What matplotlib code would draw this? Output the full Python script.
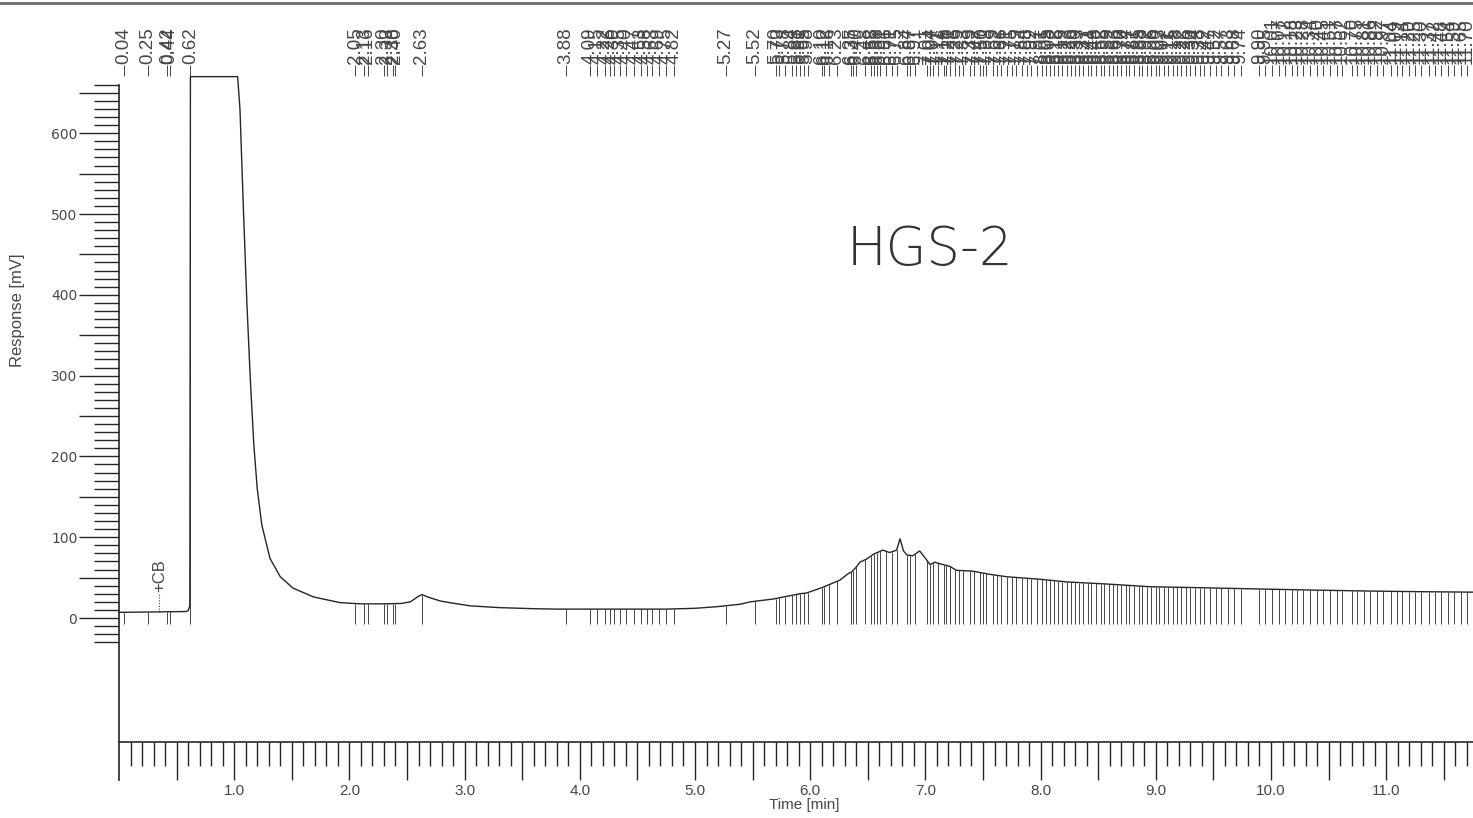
import numpy as np
import matplotlib
matplotlib.use("Agg")
import matplotlib.pyplot as plt
from matplotlib.ticker import FixedLocator, FuncFormatter
from matplotlib.lines import Line2D

# ---------------- data ----------------
time_min = [0.00, 0.30, 0.58, 0.60, 0.615, 0.62, 1.03, 1.05, 1.08, 1.11, 1.14,
            1.17, 1.20, 1.24, 1.31, 1.40, 1.51, 1.69, 1.92, 2.10, 2.30, 2.45,
            2.53, 2.60, 2.63, 2.68, 2.79, 2.87, 3.05, 3.31, 3.60, 3.80, 4.30,
            4.75, 5.00, 5.19, 5.39, 5.48, 5.68, 5.91, 5.97, 6.11, 6.26, 6.33,
            6.36, 6.40, 6.43, 6.49, 6.55, 6.63, 6.69, 6.75, 6.78, 6.81, 6.84,
            6.89, 6.95, 7.01, 7.04, 7.08, 7.13, 7.21, 7.27, 7.41, 7.56, 7.71,
            7.99, 8.23, 8.58, 8.95, 9.38, 9.90, 10.31, 10.83, 11.27, 11.75]
response_mv = [7.0, 7.5, 8.0, 9.0, 15.0, 670.0, 670.0, 630.0, 506.0, 390.0, 295.0,
               215.0, 160.0, 115.0, 74.0, 51.0, 37.0, 26.0, 19.0, 17.5, 17.5,
               18.0, 20.0, 27.0, 29.0, 26.0, 21.0, 19.0, 15.0, 12.8, 11.5, 11.0,
               11.0, 11.0, 12.0, 14.0, 17.0, 20.0, 23.5, 30.0, 31.0, 38.0, 47.0,
               55.0, 57.0, 63.0, 69.0, 73.0, 79.0, 84.0, 81.0, 84.0, 98.0, 83.0,
               78.0, 77.0, 83.0, 72.0, 66.0, 69.0, 67.0, 64.0, 59.0, 58.0, 54.0,
               51.0, 48.0, 44.6, 42.0, 38.7, 37.5, 35.9, 34.7, 33.4, 32.6, 32.0]

peak_times = [0.04, 0.25, 0.42, 0.44, 0.62,
              2.05, 2.13, 2.16, 2.30, 2.33, 2.38, 2.40, 2.63,
              3.88, 4.09, 4.15, 4.22, 4.26, 4.30, 4.35, 4.40, 4.47, 4.53, 4.58,
              4.63, 4.69, 4.75, 4.82,
              5.27, 5.52,
              5.70, 5.73, 5.78, 5.84, 5.88, 5.91, 5.95, 5.98, 6.10, 6.12, 6.16,
              6.23, 6.35, 6.37, 6.40, 6.48, 6.53, 6.55, 6.58, 6.61, 6.66, 6.71,
              6.75, 6.84, 6.87, 6.91, 7.01, 7.04, 7.07, 7.11, 7.16, 7.18, 7.21,
              7.26, 7.29, 7.33, 7.39, 7.42, 7.47, 7.50, 7.53, 7.59, 7.62, 7.66,
              7.71, 7.75, 7.79, 7.84, 7.88, 7.92, 7.97,
              8.01, 8.05, 8.08, 8.12, 8.15, 8.19, 8.23, 8.26, 8.30, 8.33, 8.37,
              8.41, 8.44, 8.48, 8.52, 8.55, 8.59, 8.63, 8.66, 8.70, 8.74, 8.77,
              8.81, 8.85, 8.88, 8.92, 8.96, 9.00, 9.03, 9.07, 9.11, 9.15, 9.18,
              9.22, 9.26, 9.30, 9.34, 9.38, 9.42, 9.47,
              9.52, 9.57, 9.63, 9.68, 9.74, 9.90, 9.95, 10.01, 10.07, 10.12,
              10.18, 10.23, 10.28, 10.34, 10.40, 10.45, 10.51, 10.57, 10.62,
              10.70, 10.75, 10.81, 10.86, 10.92, 10.97, 11.04, 11.09, 11.14,
              11.20, 11.25, 11.30, 11.37, 11.42, 11.48, 11.54, 11.59, 11.65, 11.70]

x_tick_labels = ["1.0", "2.0", "3.0", "4.0", "5.0", "6.0", "7.0", "8.0",
                 "9.0", "10.0", "11.0"]
y_tick_labels = ["0", "100", "200", "300", "400", "500", "600"]
cb_time = 0.35
annotation_text = "HGS-2"

# ---------------- figure ----------------
W, H, DPI = 1473, 818, 100
fig = plt.figure(figsize=(W / DPI, H / DPI), dpi=DPI)
fig.patch.set_facecolor("white")
ax = fig.add_axes([0, 0, 1, 1])
ax.set_facecolor("none")

# pixel mapping: x = 119 + 115.2 * t ; y_px = 618 - 0.808 * v
x0, xs = 119.0, 115.2
y0, ys = 618.0, 0.808
ax.set_xlim(-x0 / xs, (W - x0) / xs)
ax.set_ylim((y0 - H) / ys, y0 / ys)

ink = "#262626"
grey = "#474747"

# trace
ax.plot(time_min, response_mv, color=ink, lw=1.0, zorder=3)

# drop lines at each peak
pt = np.array(peak_times)
top = np.interp(pt, time_min, response_mv)
top = np.where(pt < 0.6, 8.0, top)
ax.vlines(pt, -7, top, color=grey, lw=0.7, zorder=2)

# retention-time labels at top
ax.vlines(pt, 671, 685, color=grey, lw=0.7)
for t in peak_times:
    ax.text(t, 686, f"{t:.2f}", rotation=90, ha="center", va="bottom",
            fontsize=13.5, family="Liberation Sans", color=grey)

# +CB marker
ax.vlines([cb_time], 8, 31, color=grey, lw=0.8, linestyles=(0, (1, 1.5)))
ax.text(cb_time, 32, "+CB", rotation=90, ha="center", va="bottom",
        fontsize=12, family="Liberation Sans", color=grey)

# spines
for s in ("top", "right"):
    ax.spines[s].set_visible(False)
ax.spines["left"].set_position(("data", 0))
ax.spines["left"].set_bounds(-200, 660)
ax.spines["bottom"].set_position(("data", -153.5))
ax.spines["bottom"].set_bounds(0, (W - x0) / xs)
for s in ("left", "bottom"):
    ax.spines[s].set_color(ink)
    ax.spines[s].set_linewidth(1.2)

# x ticks
xmaj = [i * 0.5 for i in range(1, 24)]
xmin = [i / 10 for i in range(1, 118) if i % 5 != 0]
ax.xaxis.set_major_locator(FixedLocator(xmaj))
ax.xaxis.set_minor_locator(FixedLocator(xmin))
lab_x = {float(i + 1): s for i, s in enumerate(x_tick_labels)}
ax.xaxis.set_major_formatter(FuncFormatter(lambda v, p: lab_x.get(round(v, 1), "")))
ax.tick_params(axis="x", which="major", direction="out", length=27, width=1.0,
               color=ink, pad=3, labelsize=11, labelcolor=grey)
ax.tick_params(axis="x", which="minor", direction="out", length=17, width=1.0,
               color=ink)
for lab in ax.get_xticklabels():
    lab.set_family("Liberation Sans")

# y ticks
ymaj = list(range(0, 651, 50))
ymin = [v for v in range(-30, 661, 10) if v % 50 != 0]
ax.yaxis.set_major_locator(FixedLocator(ymaj))
ax.yaxis.set_minor_locator(FixedLocator(ymin))
lab_y = {int(s): s for s in y_tick_labels}
ax.yaxis.set_major_formatter(FuncFormatter(lambda v, p: lab_y.get(int(round(v)), "")))
ax.tick_params(axis="y", which="major", direction="out", length=29, width=1.0,
               color=ink, pad=1, labelsize=10, labelcolor=grey)
ax.tick_params(axis="y", which="minor", direction="out", length=18, width=1.0,
               color=ink)

# axis titles
ax.text(5.95, -231, "Time [min]", ha="center", va="center", fontsize=11,
        family="Liberation Sans", color=grey)
ax.text(-0.88, 381, "Response [mV]", ha="center", va="center", rotation=90,
        fontsize=12, family="Liberation Sans", color=grey)

# handwritten sample name
ax.text(7.04, 455, annotation_text, ha="center", va="center", fontsize=38,
        family="DejaVu Sans", fontweight=200, color="#333333")

# scan edge line along the top of the page
fig.add_artist(Line2D([0, 1], [1 - 3 / H, 1 - 3 / H], transform=fig.transFigure,
                      color="#6a6a6a", lw=2.0))

fig.savefig("out.png", dpi=DPI, facecolor="white")
